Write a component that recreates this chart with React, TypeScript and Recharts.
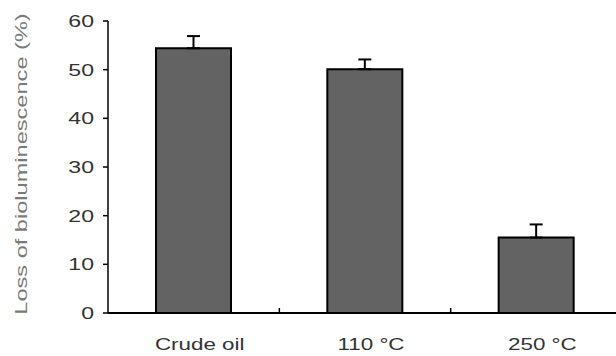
import React from 'react';
import { BarChart, Bar, XAxis, YAxis, ErrorBar } from 'recharts';

// values
const categories = ['Crude oil', '110 °C', '250 °C'];
const lossValues = [54.4, 50.1, 15.5];
const lossErrors = [2.5, 2.0, 2.7];
const yTicks = [0, 10, 20, 30, 40, 50, 60];

const data = categories.map((name, i) => ({
  name,
  loss: lossValues[i],
  err: [0, lossErrors[i]],
}));

const FONT = '"Liberation Sans", Arial, sans-serif';
const STRETCH = 1.4; // the original figure is squashed wide

// category label plus the small inward tick on the category's right border
const XTick = ({ x, y, payload, index, width, visibleTicksCount }: any) => {
  const half = payload.offset > 0 ? payload.offset : width / visibleTicksCount / 2;
  const bx = x + half;
  return (
    <g>
      {index < visibleTicksCount - 1 && (
        <line x1={bx} x2={bx} y1={y} y2={y - 5} stroke="#000" strokeWidth={1.5} />
      )}
      <text
        transform={`translate(${x + 6},${y + 37}) scale(${STRETCH},1)`}
        textAnchor="middle"
        style={{ fontSize: 16, fontFamily: FONT, fill: '#333' }}
      >
        {payload.value}
      </text>
    </g>
  );
};

const YTick = ({ x, y, payload }: any) => (
  <text
    transform={`translate(${x},${y + 6}) scale(${STRETCH},1)`}
    textAnchor="end"
    style={{ fontSize: 16.5, fontFamily: FONT, fill: '#333' }}
  >
    {payload.value}
  </text>
);

export default function App() {
  return (
    <div style={{ position: 'absolute', left: 0, top: 0, width: 616, height: 356, overflow: 'hidden', background: '#fff' }}>
      <svg width={40} height={356} style={{ position: 'absolute', left: 0, top: 0 }}>
        <text
          transform={`translate(27,164) rotate(-90) scale(1.43,1)`}
          textAnchor="middle"
          style={{ fontSize: 16.5, fontFamily: FONT, fill: '#7a7a7a' }}
        >
          Loss of bioluminescence (%)
        </text>
      </svg>
      <BarChart
        width={622}
        height={356}
        data={data}
        margin={{ top: 21, right: 0, bottom: 0, left: 0 }}
        barSize={75}
      >
        <XAxis
          dataKey="name"
          height={43}
          axisLine={{ stroke: '#000', strokeWidth: 2 }}
          tickLine={false}
          tickSize={0}
          tickMargin={0}
          tick={<XTick />}
          interval={0}
        />
        <YAxis
          width={108}
          domain={[0, 60]}
          ticks={yTicks}
          interval={0}
          axisLine={{ stroke: '#000', strokeWidth: 1.5 }}
          tickLine={{ stroke: '#000', strokeWidth: 1.5 }}
          tickSize={5}
          tickMargin={9}
          tick={<YTick />}
        />
        <Bar dataKey="loss" fill="#636363" stroke="#000" strokeWidth={2} isAnimationActive={false}>
          <ErrorBar dataKey="err" direction="y" width={6.5} stroke="#000" strokeWidth={2} />
        </Bar>
      </BarChart>
    </div>
  );
}
